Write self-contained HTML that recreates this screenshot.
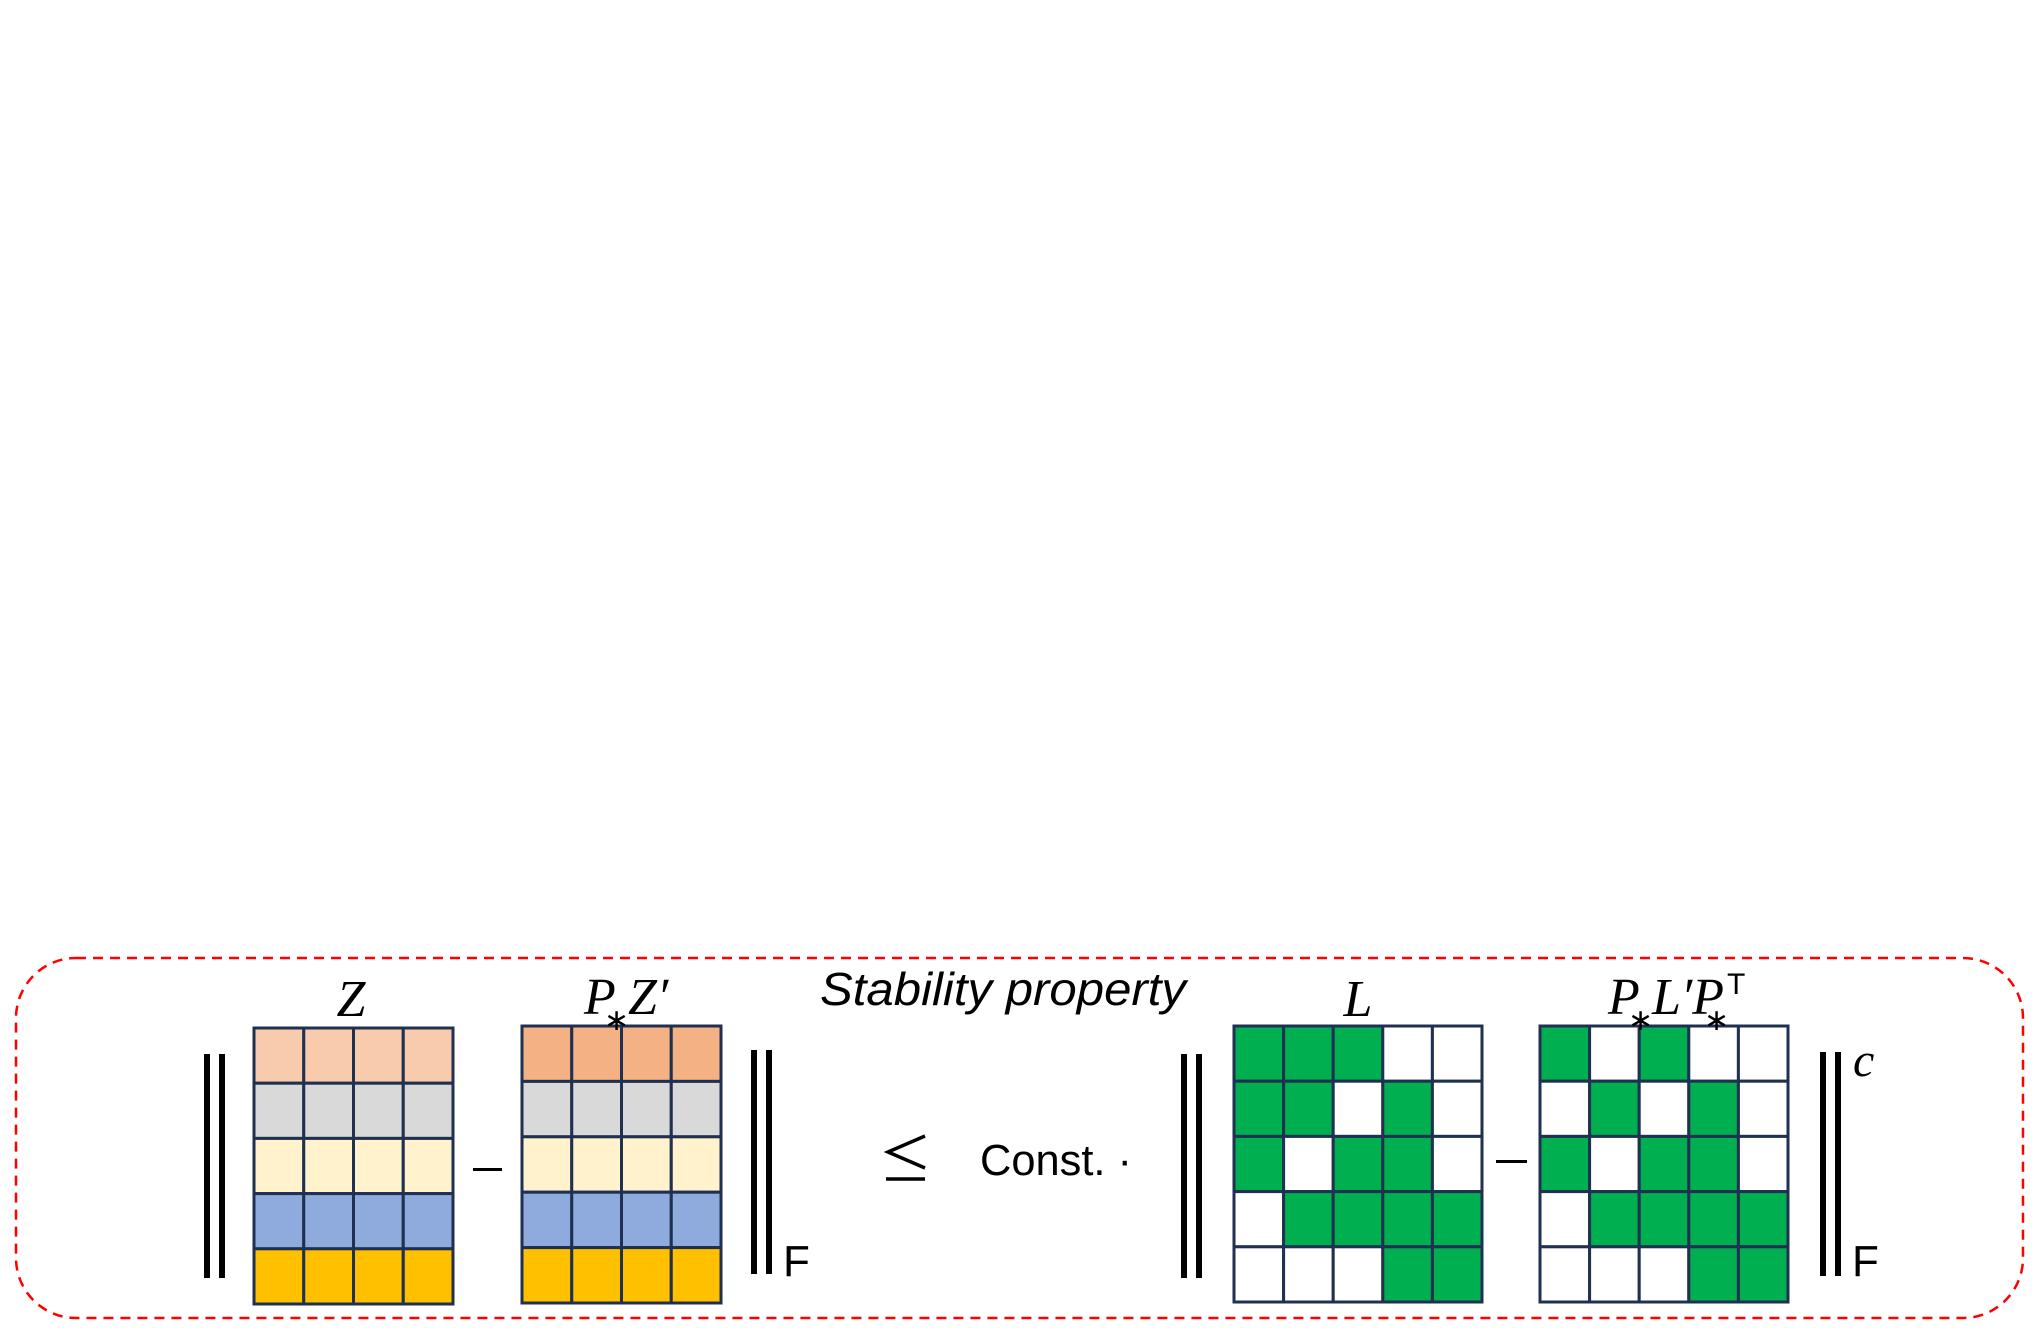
<!DOCTYPE html>
<html><head><meta charset="utf-8"><style>
html,body{margin:0;padding:0;background:#fff;}
svg{display:block;}
</style></head><body>
<svg width="2043" height="1337" viewBox="0 0 2043 1337" xmlns="http://www.w3.org/2000/svg">
<rect x="16" y="958" width="2007" height="360" rx="60" ry="60" fill="none" stroke="#ff0000" stroke-width="2.5" stroke-dasharray="10,7"/>
<text x="820" y="1005" textLength="366" lengthAdjust="spacingAndGlyphs" font-family="Liberation Sans, sans-serif" font-style="italic" font-size="46" fill="#000">Stability property</text>
<g id="mats"></g>
<g fill="#000">
<rect x="204" y="1054" width="6" height="224"/>
<rect x="219" y="1054" width="6" height="224"/>
<rect x="751" y="1050" width="6" height="224"/>
<rect x="766" y="1050" width="6" height="224"/>
<rect x="1181" y="1054" width="6" height="224"/>
<rect x="1196" y="1054" width="6" height="224"/>
<rect x="1820" y="1052" width="6" height="224"/>
<rect x="1835" y="1052" width="6" height="224"/>
<rect x="473" y="1168" width="29" height="3"/>
<rect x="1496" y="1160" width="31" height="3"/>
</g>
<text x="783" y="1276" font-family="Liberation Sans, sans-serif" font-size="44">F</text>
<text x="1852" y="1276" font-family="Liberation Sans, sans-serif" font-size="44">F</text>
<text x="1853" y="1076" font-family="Liberation Serif, serif" font-style="italic" font-size="48">c</text>
<g stroke="#000" stroke-width="3.5" fill="none">
<polyline points="925,1136 888,1152 925,1168"/>
<line x1="886" y1="1179" x2="925" y2="1179"/>
</g>
<text x="980" y="1175" textLength="152" lengthAdjust="spacingAndGlyphs" font-family="Liberation Sans, sans-serif" font-size="44">Const. ·</text>
<text x="351" y="1016" text-anchor="middle" font-family="Liberation Serif, serif" font-style="italic" font-size="52">Z</text>
<g font-family="Liberation Serif, serif" font-style="italic" font-size="52">
<text x="584" y="1014">P</text>
<text x="604" y="1030" font-style="normal" font-size="30">∗</text>
<text x="628" y="1014">Z′</text>
</g>
<text x="1358" y="1016" text-anchor="middle" font-family="Liberation Serif, serif" font-style="italic" font-size="52">L</text>
<g font-family="Liberation Serif, serif" font-style="italic" font-size="52">
<text x="1608" y="1014">P</text>
<text x="1628" y="1030" font-style="normal" font-size="30">∗</text>
<text x="1652" y="1014">L′P</text>
<text x="1704" y="1030" font-style="normal" font-size="30">∗</text>
<text x="1727" y="994" font-style="normal" font-family="Liberation Sans, sans-serif" font-size="30">T</text>
</g>
</svg>
<script>
const zRowColors = ["#F8CBAD","#D9D9D9","#FFF2CC","#8FAADC","#FFC000"];
const pzRowColors = ["#F4B183","#D9D9D9","#FFF2CC","#8FAADC","#FFC000"];
const lGrid = [[1,1,1,0,0],[1,1,0,1,0],[1,0,1,1,0],[0,1,1,1,1],[0,0,0,1,1]];
const plpGrid = [[1,0,1,0,0],[0,1,0,1,0],[1,0,1,1,0],[0,1,1,1,1],[0,0,0,1,1]];
const NS="http://www.w3.org/2000/svg";
const g=document.getElementById('mats');
function drawMatrix(name,x0,y0,w,h,rows,cols,colorFn){
  const cw=w/cols, ch=h/rows;
  for(let r=0;r<rows;r++)for(let c=0;c<cols;c++){
    const el=document.createElementNS(NS,'rect');
    el.setAttribute('x',x0+c*cw);el.setAttribute('y',y0+r*ch);
    el.setAttribute('width',cw);el.setAttribute('height',ch);
    el.setAttribute('fill',colorFn(r,c));el.setAttribute('stroke','#1F3050');el.setAttribute('stroke-width','3');
    
    
    g.appendChild(el);
  }
}
drawMatrix('z-matrix',254,1028,199,276,5,4,(r)=>zRowColors[r]);
drawMatrix('pz-matrix',522,1026,199,277,5,4,(r)=>pzRowColors[r]);
drawMatrix('l-matrix',1234,1026,248,276,5,5,(r,c)=>lGrid[r][c]?"#00B050":"#FFFFFF");
drawMatrix('plp-matrix',1540,1026,248,276,5,5,(r,c)=>plpGrid[r][c]?"#00B050":"#FFFFFF");
</script>
</body></html>
